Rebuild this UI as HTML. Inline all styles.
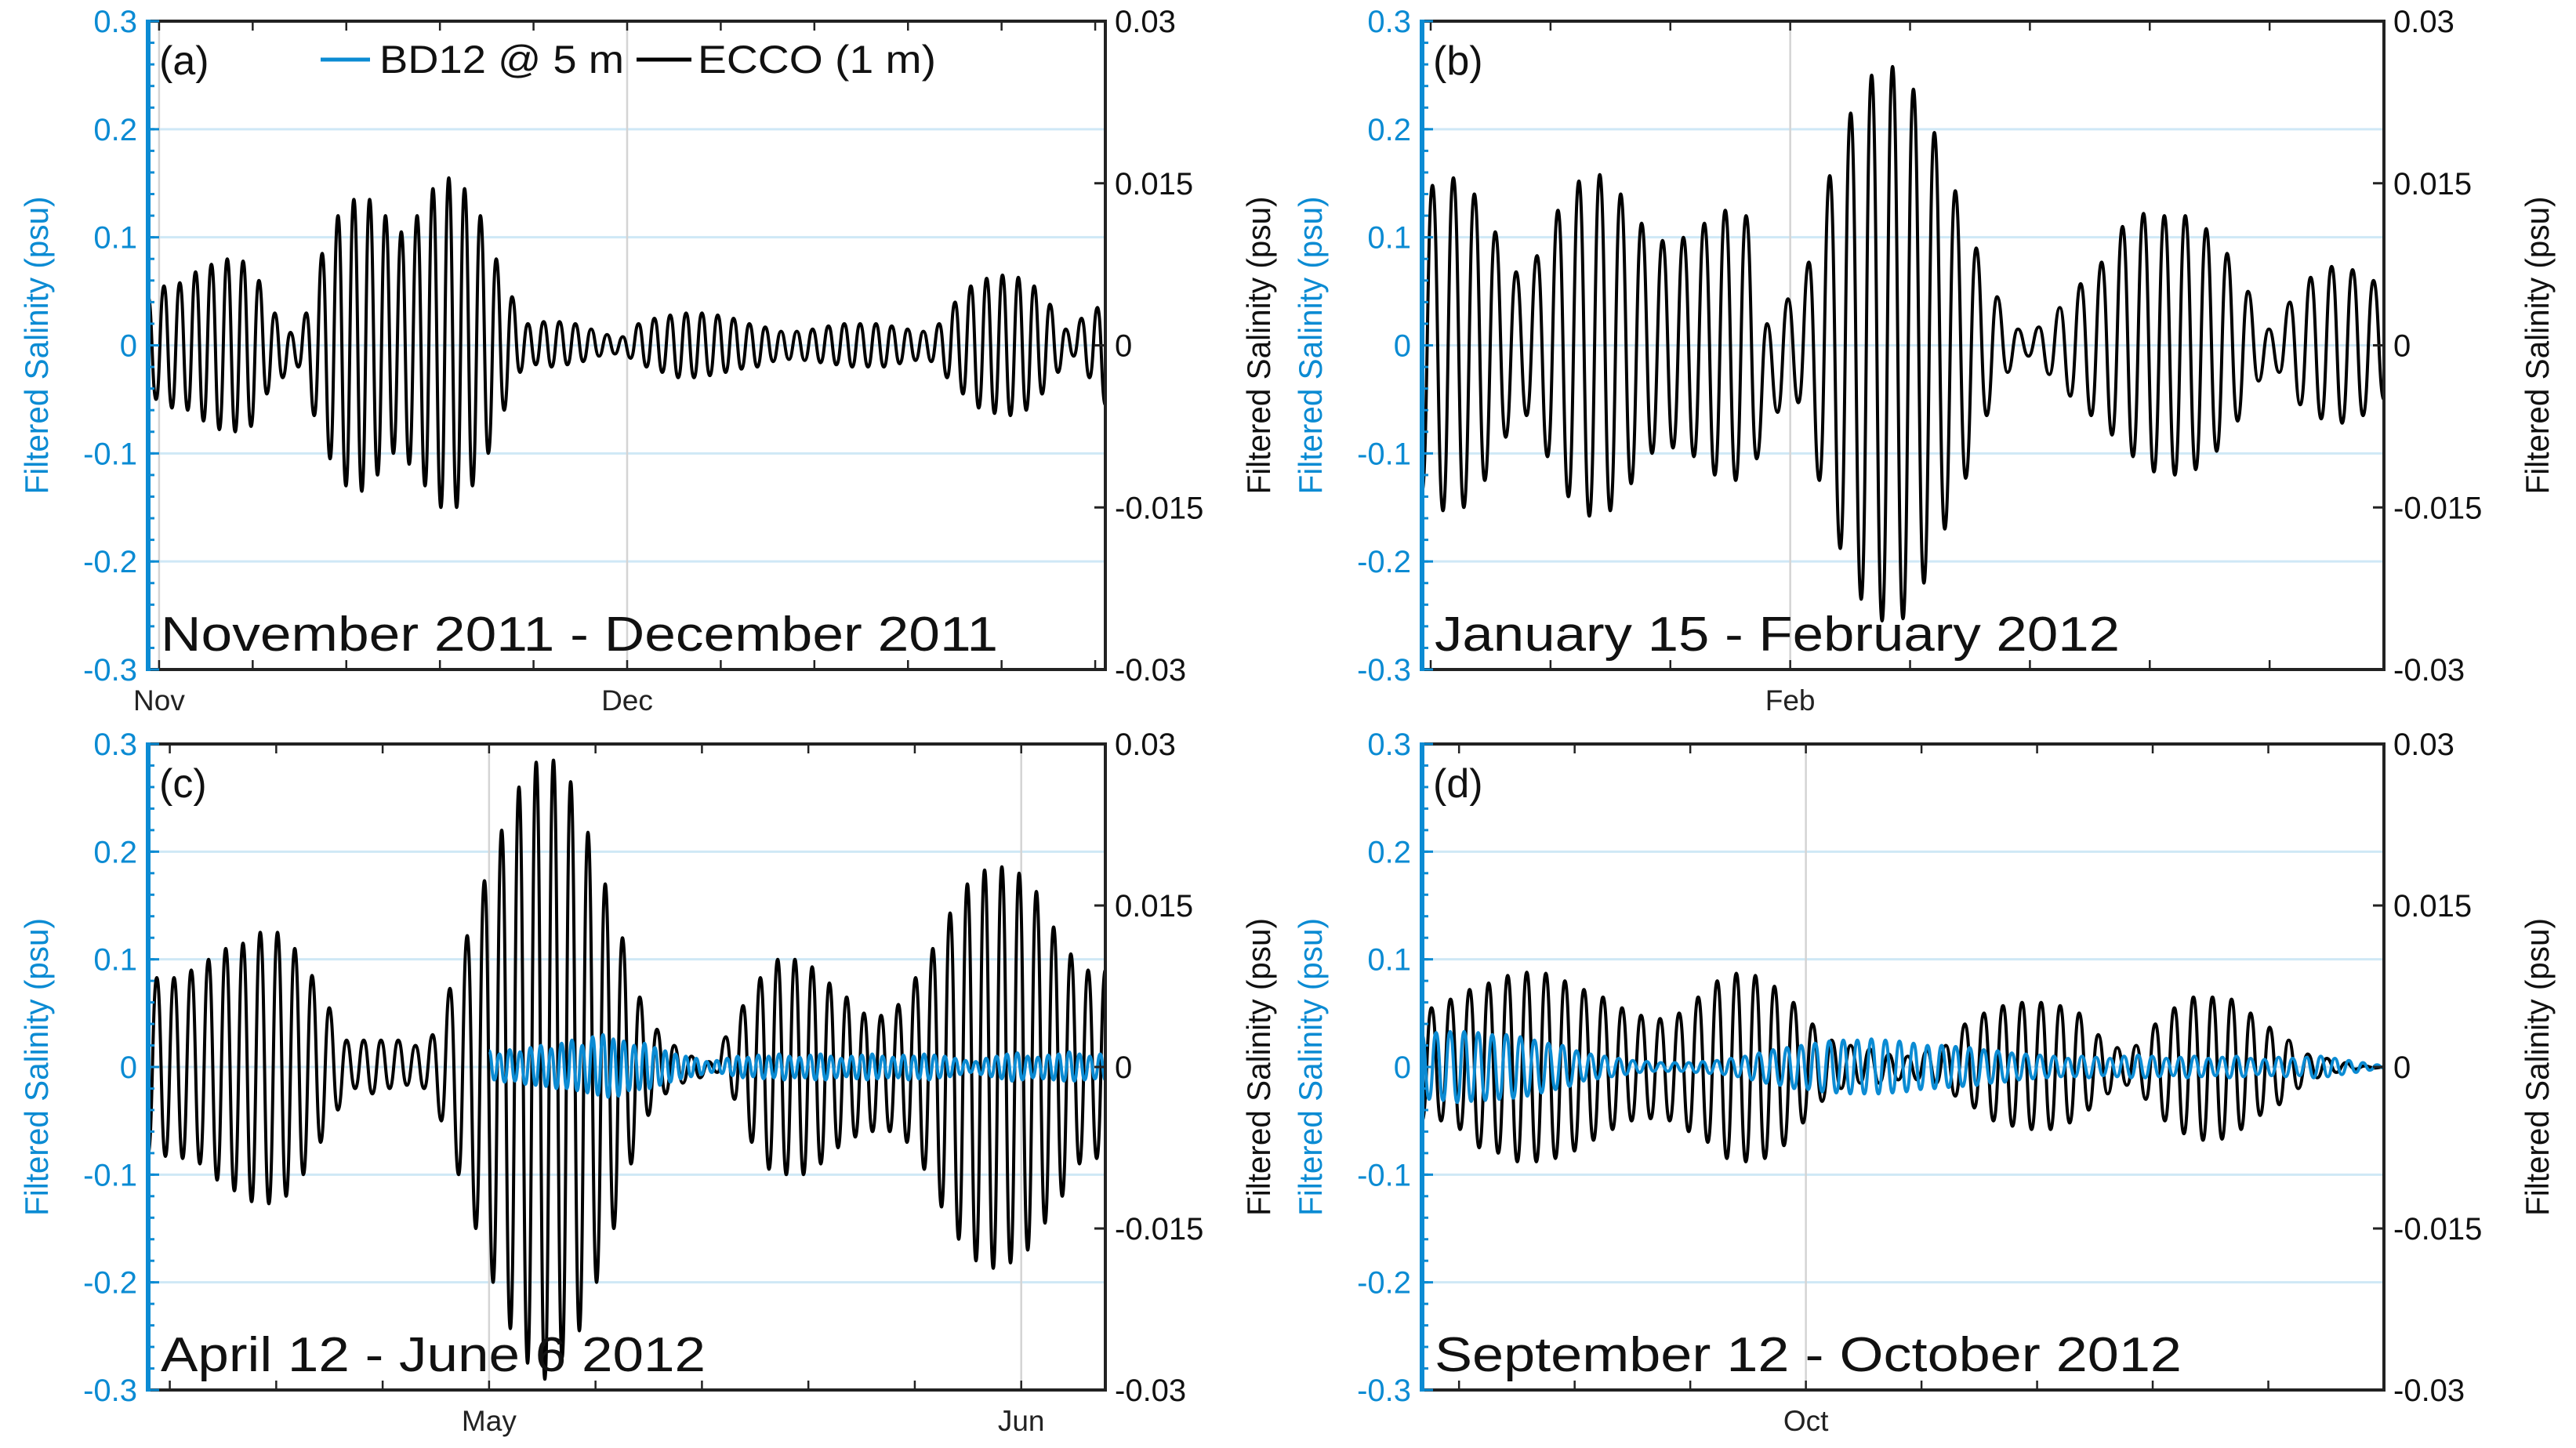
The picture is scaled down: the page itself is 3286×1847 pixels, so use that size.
<!DOCTYPE html>
<html><head><meta charset="utf-8"><style>
html,body{margin:0;padding:0;background:#fff;}
svg{display:block;font-family:"Liberation Sans",Arial,sans-serif;}
</style></head><body>
<svg id="fig" xmlns="http://www.w3.org/2000/svg" width="3286" height="1847" viewBox="0 0 3286 1847"></svg>
<script>
// ---------- DATA (alternating extrema, left-axis psu units) ----------
const eccoA = [0.045,-0.05,0.055,-0.058,0.058,-0.06,0.068,-0.07,0.075,-0.078,0.08,-0.08,0.078,-0.075,0.06,-0.045,0.03,-0.03,0.012,-0.02,0.03,-0.065,0.085,-0.105,0.12,-0.13,0.135,-0.135,0.135,-0.12,0.12,-0.1,0.105,-0.11,0.12,-0.13,0.145,-0.15,0.155,-0.15,0.145,-0.13,0.12,-0.1,0.08,-0.06,0.045,-0.025,0.02,-0.018,0.022,-0.02,0.022,-0.018,0.02,-0.015,0.015,-0.01,0.01,-0.008,0.008,-0.012,0.02,-0.02,0.025,-0.025,0.028,-0.03,0.03,-0.03,0.03,-0.028,0.028,-0.025,0.025,-0.022,0.02,-0.02,0.017,-0.015,0.013,-0.013,0.013,-0.014,0.015,-0.016,0.018,-0.018,0.02,-0.02,0.02,-0.02,0.02,-0.02,0.018,-0.017,0.015,-0.014,0.013,-0.015,0.02,-0.03,0.04,-0.045,0.055,-0.058,0.062,-0.063,0.065,-0.065,0.063,-0.06,0.055,-0.045,0.038,-0.025,0.015,-0.01,0.025,-0.03,0.035,-0.055];
const eccoB = [-0.135,0.148,-0.153,0.155,-0.15,0.14,-0.125,0.105,-0.085,0.068,-0.065,0.083,-0.103,0.125,-0.14,0.152,-0.158,0.158,-0.153,0.14,-0.128,0.113,-0.1,0.097,-0.095,0.1,-0.103,0.113,-0.12,0.125,-0.125,0.12,-0.105,0.02,-0.062,0.043,-0.053,0.077,-0.125,0.157,-0.188,0.215,-0.235,0.25,-0.255,0.258,-0.253,0.237,-0.22,0.197,-0.17,0.143,-0.123,0.09,-0.065,0.045,-0.025,0.015,-0.01,0.017,-0.027,0.035,-0.047,0.057,-0.065,0.077,-0.083,0.11,-0.103,0.122,-0.117,0.12,-0.12,0.12,-0.115,0.108,-0.098,0.085,-0.07,0.05,-0.033,0.015,-0.025,0.04,-0.055,0.063,-0.068,0.073,-0.072,0.07,-0.065,0.06,-0.05];
const eccoC = [-0.08,0.083,-0.083,0.083,-0.085,0.09,-0.09,0.1,-0.105,0.11,-0.115,0.115,-0.125,0.125,-0.127,0.125,-0.12,0.11,-0.1,0.085,-0.07,0.055,-0.04,0.025,-0.02,0.025,-0.025,0.025,-0.02,0.025,-0.017,0.02,-0.02,0.03,-0.05,0.073,-0.1,0.122,-0.15,0.173,-0.2,0.22,-0.243,0.26,-0.275,0.283,-0.29,0.285,-0.27,0.265,-0.245,0.218,-0.2,0.17,-0.15,0.12,-0.09,0.065,-0.045,0.035,-0.025,0.02,-0.015,0.01,-0.01,0.005,-0.005,0.028,-0.03,0.057,-0.07,0.083,-0.095,0.1,-0.1,0.1,-0.1,0.093,-0.09,0.078,-0.075,0.065,-0.065,0.05,-0.06,0.048,-0.06,0.058,-0.07,0.083,-0.095,0.11,-0.13,0.143,-0.16,0.17,-0.18,0.183,-0.187,0.186,-0.182,0.18,-0.17,0.163,-0.145,0.13,-0.12,0.105,-0.09,0.09,-0.085,0.09];
const eccoD = [-0.05,0.055,-0.05,0.063,-0.058,0.072,-0.075,0.078,-0.08,0.085,-0.088,0.088,-0.088,0.087,-0.085,0.08,-0.078,0.072,-0.068,0.065,-0.058,0.055,-0.05,0.048,-0.048,0.045,-0.05,0.05,-0.06,0.065,-0.07,0.08,-0.085,0.087,-0.088,0.085,-0.085,0.075,-0.073,0.06,-0.052,0.04,-0.032,0.025,-0.02,0.02,-0.015,0.017,-0.015,0.012,-0.012,0.01,-0.012,0.015,-0.015,0.02,-0.027,0.04,-0.038,0.05,-0.05,0.057,-0.055,0.06,-0.058,0.06,-0.058,0.057,-0.052,0.05,-0.04,0.03,-0.025,0.018,-0.017,0.02,-0.03,0.04,-0.05,0.055,-0.062,0.065,-0.068,0.065,-0.067,0.063,-0.058,0.05,-0.045,0.037,-0.035,0.025,-0.02,0.012,-0.01,0.008,-0.005,0.004,-0.002,0.001,-0.001,0];
const bdC = [0.015,-0.012,0.012,-0.014,0.016,-0.013,0.014,-0.016,0.018,-0.017,0.02,-0.018,0.017,-0.02,0.022,-0.02,0.025,-0.022,0.02,-0.024,0.028,-0.026,0.03,-0.028,0.026,-0.027,0.024,-0.022,0.02,-0.021,0.022,-0.02,0.018,-0.017,0.015,-0.014,0.012,-0.011,0.01,-0.009,0.008,-0.007,0.005,-0.005,0.006,-0.006,0.008,-0.008,0.01,-0.01,0.009,-0.009,0.011,-0.011,0.01,-0.01,0.012,-0.012,0.01,-0.01,0.009,-0.01,0.011,-0.012,0.012,-0.012,0.01,-0.01,0.008,-0.009,0.01,-0.011,0.011,-0.012,0.012,-0.011,0.01,-0.01,0.009,-0.01,0.011,-0.012,0.01,-0.011,0.012,-0.012,0.011,-0.01,0.01,-0.009,0.008,-0.007,0.006,-0.005,0.005,-0.007,0.008,-0.009,0.01,-0.011,0.012,-0.013,0.013,-0.012,0.01,-0.01,0.009,-0.011,0.011,-0.012,0.012,-0.013,0.014,-0.013,0.012,-0.012,0.01,-0.011,0.012,-0.012];
const bdD = [0.03,-0.03,0.032,-0.031,0.033,-0.033,0.033,-0.032,0.032,-0.031,0.03,-0.03,0.03,-0.029,0.028,-0.027,0.025,-0.024,0.022,-0.021,0.02,-0.018,0.015,-0.013,0.012,-0.011,0.01,-0.009,0.008,-0.007,0.006,-0.005,0.005,-0.004,0.004,-0.004,0.004,-0.004,0.004,-0.005,0.005,-0.006,0.006,-0.007,0.008,-0.009,0.01,-0.012,0.013,-0.015,0.016,-0.017,0.018,-0.02,0.02,-0.021,0.022,-0.023,0.024,-0.024,0.025,-0.025,0.025,-0.025,0.026,-0.025,0.025,-0.024,0.024,-0.023,0.022,-0.021,0.02,-0.02,0.02,-0.019,0.019,-0.018,0.018,-0.017,0.016,-0.015,0.015,-0.014,0.013,-0.012,0.012,-0.011,0.011,-0.01,0.01,-0.009,0.008,-0.009,0.01,-0.01,0.009,-0.008,0.008,-0.009,0.01,-0.01,0.011,-0.01,0.01,-0.009,0.008,-0.008,0.009,-0.01,0.01,-0.009,0.008,-0.008,0.009,-0.01,0.01,-0.009,0.008,-0.007,0.007,-0.008,0.009,-0.009,0.008,-0.008,0.009,-0.01,0.01,-0.009,0.008,-0.007,0.006,-0.005,0.004,-0.003,0.002,-0.001];
const leftTicks = [0.3,0.2,0.1,0,-0.1,-0.2,-0.3];
const leftTickLabels = ["0.3","0.2","0.1","0","-0.1","-0.2","-0.3"];
const rightTicks = [0.03,0.015,0,-0.015,-0.03];
const rightTickLabels = ["0.03","0.015","0","-0.015","-0.03"];
const panelLetters = ["(a)","(b)","(c)","(d)"];
const panelTitles = ["November 2011 - December 2011","January 15 - February 2012","April 12 - June 6 2012","September 12 - October 2012"];
const dayDomains = [[-0.7,60.65],[-15.36,24.77],[-19.86,35.9],[-16.6,25.0]];
const minorDays = [[0,6,12,18,24,30,36,42,48,54,60],[-15,-10,-5,0,5,10,15,20],[-18.6,-12.4,-6.2,0,6.2,12.4,18.6,24.8,31],[-15,-10,-5,0,5,10,15,20,25]];
const monthDays = [[0,30],[0],[0,31],[0]];
const monthLabels = [["Nov","Dec"],["Feb"],["May","Jun"],["Oct"]];
const eccoSeries = [eccoA,eccoB,eccoC,eccoD];
const bdSeries = [null,null,bdC,bdD];
const bdDayRange = [null,null,[0,35.9],[-16.6,25.0]];

// ---------- LAYOUT ----------
const NS="http://www.w3.org/2000/svg";
const svg=document.getElementById('fig');
const BLUE="#0b8bd3";
const panels=[{x:189,y:27,w:1221,h:827},{x:1814,y:27,w:1227,h:827},{x:189,y:949,w:1221,h:824},{x:1814,y:949,w:1227,h:824}];
function mk(tag,attrs,parent){const e=document.createElementNS(NS,tag);for(const k in attrs)e.setAttribute(k,attrs[k]);(parent||svg).appendChild(e);return e;}

panels.forEach((p,pi)=>{
  const g=mk('g',{});
  
  
  const yL=v=>p.y+(0.3-v)/0.6*p.h;
  const yR=v=>p.y+(0.03-v)/0.06*p.h;
  const [d0,d1]=dayDomains[pi];
  const xS=d=>p.x+(d-d0)/(d1-d0)*p.w;
  leftTicks.forEach(v=>{
    if(Math.abs(v)>0.29)return;
    const l=mk('line',{x1:p.x,x2:p.x+p.w,y1:yL(v),y2:yL(v),stroke:"#cfe8f6","stroke-width":3},g);
    
    
  });
  monthDays[pi].forEach((d,k)=>{
    const l=mk('line',{x1:xS(d),x2:xS(d),y1:p.y,y2:p.y+p.h,stroke:"#d4d4d4","stroke-width":2.5},g);
    
    
    const t=mk('text',{x:xS(d),y:p.y+p.h+52,"font-size":37,"text-anchor":"middle",fill:"#222"},g);
    t.textContent=monthLabels[pi][k];
    
    
  });
  minorDays[pi].forEach(d=>{
    const x=xS(d);
    mk('line',{x1:x,x2:x,y1:p.y+p.h,y2:p.y+p.h-12,stroke:"#222","stroke-width":2.5},g);
    mk('line',{x1:x,x2:x,y1:p.y,y2:p.y+12,stroke:"#222","stroke-width":2.5},g);
  });
  function pathFor(arr,r){
    const n=arr.length;let dStr="";
    for(let i=0;i<n;i++){
      const x=xS(r[0]+i*(r[1]-r[0])/(n-1)),y=yL(arr[i]);
      if(i===0)dStr+="M"+x.toFixed(1)+" "+y.toFixed(1);
      else{const xp=xS(r[0]+(i-1)*(r[1]-r[0])/(n-1)),yp=yL(arr[i-1]),dx=(x-xp)/2;
        dStr+=" C"+(xp+dx).toFixed(1)+" "+yp.toFixed(1)+" "+(x-dx).toFixed(1)+" "+y.toFixed(1)+" "+x.toFixed(1)+" "+y.toFixed(1);}
    }
    return dStr;
  }
  const ep=mk('path',{d:pathFor(eccoSeries[pi],[d0,d1]),fill:"none",stroke:"#000","stroke-width":4,"stroke-linejoin":"round"},g);
  
  
  if(bdSeries[pi]){
    const bp=mk('path',{d:pathFor(bdSeries[pi],bdDayRange[pi]),fill:"none",stroke:BLUE,"stroke-width":4},g);
    
    
  }
  const fr=mk('path',{d:`M${p.x} ${p.y}H${p.x+p.w}V${p.y+p.h}H${p.x}`,fill:"none",stroke:"#222","stroke-width":4},g);
  
  
  const la=mk('line',{x1:p.x,x2:p.x,y1:p.y-2,y2:p.y+p.h+2,stroke:BLUE,"stroke-width":6},g);
  
  
  for(let v=-0.28;v<0.29;v+=0.02){mk('line',{x1:p.x,x2:p.x+8,y1:yL(v),y2:yL(v),stroke:BLUE,"stroke-width":3},g);}
  leftTicks.forEach((v,k)=>{
    mk('line',{x1:p.x,x2:p.x+14,y1:yL(v),y2:yL(v),stroke:BLUE,"stroke-width":3},g);
    const t=mk('text',{x:p.x-14,y:yL(v)+14,"font-size":40,"text-anchor":"end",fill:BLUE},g);
    t.textContent=leftTickLabels[k];
    
    
  });
  rightTicks.forEach((v,k)=>{
    mk('line',{x1:p.x+p.w,x2:p.x+p.w-14,y1:yR(v),y2:yR(v),stroke:"#222","stroke-width":3},g);
    const t=mk('text',{x:p.x+p.w+12,y:yR(v)+14,"font-size":40,fill:"#111"},g);
    t.textContent=rightTickLabels[k];
    
    
  });
  const cy=p.y+p.h/2;
  const lt=mk('text',{x:0,y:0,"font-size":42,"text-anchor":"middle",fill:BLUE,textLength:380,lengthAdjust:"spacingAndGlyphs",transform:`translate(${p.x-128},${cy}) rotate(-90)`},g);
  lt.textContent="Filtered Salinity (psu)";
  
  
  const rt=mk('text',{x:0,y:0,"font-size":42,"text-anchor":"middle",fill:"#111",textLength:380,lengthAdjust:"spacingAndGlyphs",transform:`translate(${p.x+p.w+210},${cy}) rotate(-90)`},g);
  rt.textContent="Filtered Salinity (psu)";
  
  
  const pl=mk('text',{x:p.x+14,y:p.y+68,"font-size":52,fill:"#111"},g);
  pl.textContent=panelLetters[pi];
  
  
  const titleW=[1068,874,695,953][pi];
  const pt=mk('text',{x:p.x+16,y:p.y+p.h-24,"font-size":62,fill:"#111",textLength:titleW,lengthAdjust:"spacingAndGlyphs"},g);
  pt.textContent=panelTitles[pi];
  
  
});
const lg=mk('g',{});


mk('line',{x1:409,x2:472,y1:76,y2:76,stroke:BLUE,"stroke-width":5},lg);
const l1=mk('text',{x:484,y:93,"font-size":50,fill:"#111",textLength:312,lengthAdjust:"spacingAndGlyphs"},lg);
l1.textContent="BD12 @ 5 m";


mk('line',{x1:812,x2:882,y1:76,y2:76,stroke:"#000","stroke-width":5},lg);
const l2=mk('text',{x:890,y:93,"font-size":50,fill:"#111",textLength:304,lengthAdjust:"spacingAndGlyphs"},lg);
l2.textContent="ECCO (1 m)";


</script>
</body></html>
